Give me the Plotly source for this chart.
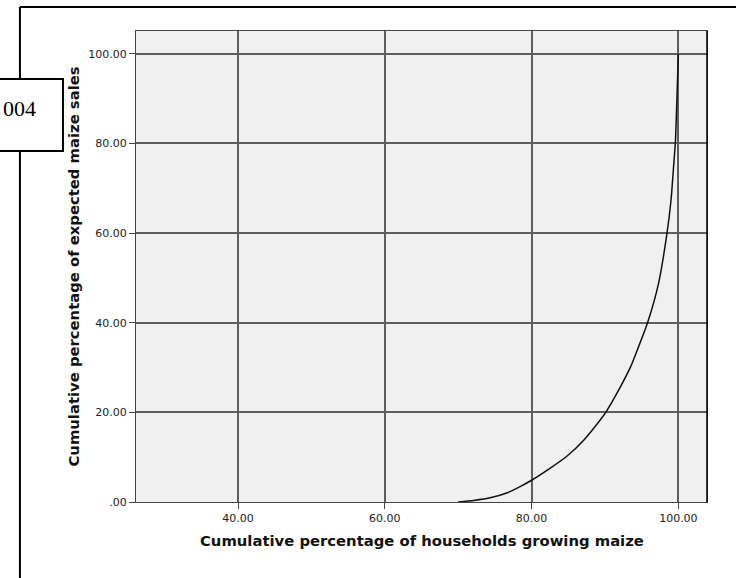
import plotly.graph_objects as go

# Data (Lorenz-type curve)
households_pct = [70.0, 72.1, 74.5, 76.6, 78.5, 80.0, 82.5, 84.8, 87.1, 89.4, 90.1,
                  92.1, 93.5, 94.4, 95.8, 97.3, 98.45, 99.0, 99.35, 99.6, 99.8, 100.0]
sales_pct = [0.0, 0.35, 1.0, 2.0, 3.5, 4.85, 7.5, 10.2, 13.8, 18.4, 20.0,
             25.7, 30.2, 33.9, 40.0, 48.8, 60.0, 67.4, 74.9, 80.5, 90.0, 100.0]

x_tickvals = [40, 60, 80, 100]
x_ticktext = ["40.00", "60.00", "80.00", "100.00"]
y_tickvals = [0, 20, 40, 60, 80, 100]
y_ticktext = [".00", "20.00", "40.00", "60.00", "80.00", "100.00"]

W, H = 736, 578
L, R, T, B = 136, 706.7, 31, 501.7

def px(xp):
    return (xp - L) / (R - L)

def py(yp):
    return (B - yp) / (B - T)

fig = go.Figure()
fig.add_trace(go.Scatter(
    x=households_pct, y=sales_pct, mode="lines",
    line=dict(color="#111111", width=1.5, shape="spline", smoothing=0.6),
    showlegend=False, hoverinfo="skip"))

axis_common = dict(
    showline=True, mirror=True, linecolor="#444444", linewidth=1,
    showgrid=True, gridcolor="#5e5e5e", gridwidth=1.5,
    zeroline=False, ticks="outside", ticklen=6, tickcolor="#444444",
    tickfont=dict(family="DejaVu Sans", size=11, color="#222222"),
)

fig.update_layout(
    width=W, height=H,
    margin=dict(l=L, r=W - R, t=T, b=H - B),
    paper_bgcolor="white", plot_bgcolor="#f0f0f0",
    xaxis=dict(range=[26.1, 103.9], tickvals=x_tickvals, ticktext=x_ticktext, **axis_common),
    yaxis=dict(range=[0, 105.1], tickvals=y_tickvals, ticktext=y_ticktext, **axis_common),
)

# Axis titles
fig.add_annotation(
    text="<b>Cumulative percentage of households growing maize</b>",
    xref="paper", yref="paper", x=0.5, y=0, yshift=-38,
    xanchor="center", yanchor="middle", showarrow=False,
    font=dict(family="DejaVu Sans", size=14.8, color="#111111"))
fig.add_annotation(
    text="<b>Cumulative percentage of expected maize sales</b>",
    xref="paper", yref="paper", x=0, y=0.5, xshift=-63, textangle=-90,
    xanchor="center", yanchor="middle", showarrow=False,
    font=dict(family="DejaVu Sans", size=14.8, color="#111111"))

# Outer frame (partly visible) and label box clipped at the left edge
fig.add_shape(type="line", xref="paper", yref="paper",
              x0=px(20), x1=px(20), y0=py(7), y1=py(620),
              line=dict(color="black", width=2))
fig.add_shape(type="line", xref="paper", yref="paper",
              x0=px(20), x1=px(780), y0=py(7), y1=py(7),
              line=dict(color="black", width=2))
fig.add_shape(type="rect", xref="paper", yref="paper",
              x0=px(-5), x1=px(63), y0=py(151), y1=py(79),
              line=dict(color="black", width=2), fillcolor="white", layer="above")
# Right edge of plot area is black
fig.add_shape(type="line", xref="paper", yref="paper",
              x0=1, x1=1, y0=0, y1=1, line=dict(color="black", width=1.5))

fig.add_annotation(
    text="004", xref="paper", yref="paper", x=px(38), y=py(108),
    xanchor="right", yanchor="middle", showarrow=False,
    font=dict(family="Liberation Serif", size=22, color="black"))

fig.write_html(
    "out.html",
    config={"displayModeBar": False},
    post_script="document.body.style.margin='0';document.body.style.overflow='hidden';",
)
